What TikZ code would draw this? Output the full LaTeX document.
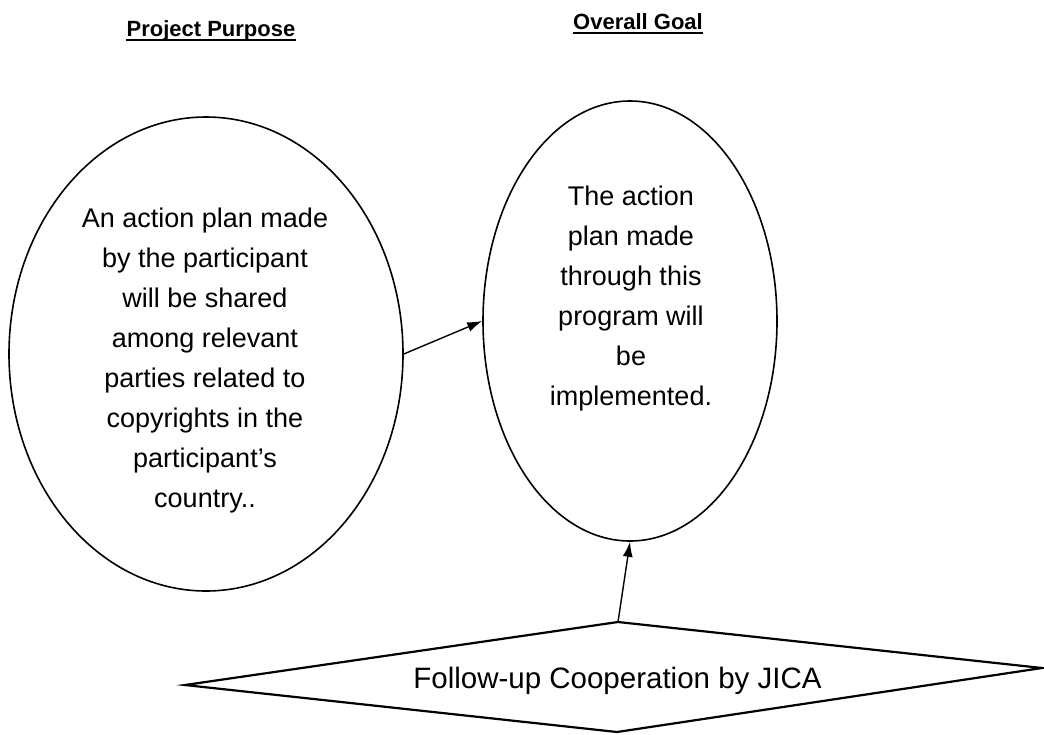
\documentclass[tikz,border=0pt]{standalone}
\usepackage{fontspec}
\setmainfont{Liberation Sans}
\usetikzlibrary{shapes.geometric,arrows.meta}
\tikzset{
  ell/.style={draw, ellipse, inner sep=0pt, line width=1.6pt},
  body/.style={anchor=base, inner sep=0pt, font=\fontsize{27}{32}\selectfont},
  head/.style={anchor=base, inner sep=0pt, font=\fontsize{22}{26}\selectfont\bfseries},
  arr/.style={-{Latex[length=15pt,width=10pt]}, line width=1.4pt},
  dia/.style={line width=2.2pt, line join=miter}
}
\begin{document}
\begin{tikzpicture}[x=1pt,y=-1pt]
\useasboundingbox[fill=white] (0,0) rectangle (1044,734);
% headers
\node[head] (h1) at (211,36) {Project Purpose};
\node[head] (h2) at (638,29) {Overall Goal};
\draw[line width=1.8pt] ([yshift=-4pt]h1.base west) -- ([yshift=-4pt]h1.base east);
\draw[line width=1.8pt] ([yshift=-4pt]h2.base west) -- ([yshift=-4pt]h2.base east);
% ellipses
\node[ell, minimum width=394pt, minimum height=474pt] (L) at (206,354) {};
\node[ell, minimum width=294pt, minimum height=440pt] (R) at (630,321) {};
% left text
\node[body] (l1) at (205,227) {An action plan made};
\node[body] (l2) at (205,267) {by the participant};
\node[body] (l3) at (205,307) {will be shared};
\node[body] (l4) at (205,347) {among relevant};
\node[body] (l5) at (205,387) {parties related to};
\node[body] (l6) at (205,427) {copyrights in the};
\node[body] (l7) at (205,467) {participant’s};
\node[body] (l8) at (205,507) {country..};
% right text
\node[body] (r1) at (631,205) {The action};
\node[body] (r2) at (631,245) {plan made};
\node[body] (r3) at (631,285) {through this};
\node[body] (r4) at (631,325) {program will};
\node[body] (r5) at (631,365) {be};
\node[body] (r6) at (631,405) {implemented.};
% diamond
\coordinate (Dl) at (185,685);
\coordinate (Dt) at (618,622);
\coordinate (Dr) at (1042,668);
\coordinate (Db) at (617,732);
\draw[dia] (Dl) -- (Dt) -- (Dr) -- (Db) -- cycle;
\node[anchor=base, inner sep=0pt, font=\fontsize{29.5}{34}\selectfont] (D) at (617.5,688) {Follow-up Cooperation by JICA};
% arrows
\draw[arr] (L.east) -- (R.west);
\draw[arr] (Dt) -- (R.south);
\end{tikzpicture}
\end{document}
